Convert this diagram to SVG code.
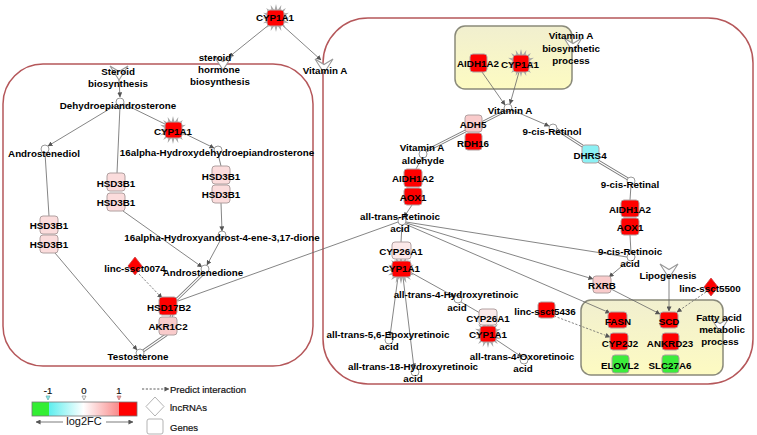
<svg xmlns="http://www.w3.org/2000/svg" xmlns:xlink="http://www.w3.org/1999/xlink" width="757" height="435" viewBox="0 0 757 435">
<defs>
<style>
.t{font-family:"Liberation Sans",Arial,sans-serif;font-weight:bold;font-size:9.8px;text-anchor:middle;dominant-baseline:central;fill:#000}
.lt{font-family:"Liberation Sans",Arial,sans-serif;font-size:9.5px;dominant-baseline:central;fill:#111;stroke:#111;stroke-width:0.2}
.box{fill:none;stroke:#b5575a;stroke-width:1.5}
.ybox{fill:url(#yg);stroke:#8a8a7a;stroke-width:1.5}
.e{stroke:#666;stroke-width:0.8;fill:none}
.d{stroke-dasharray:2.2,1.6}
.dbo{stroke:#777;stroke-width:3;fill:none}
.dbi{stroke:#fff;stroke-width:1.3;fill:none}
.g{stroke:#b0a0a0;stroke-width:1}
.red{fill:#ff0000}
.pk{fill:#f9cbcb}
.lp{fill:#fbdcdc}
.vp{fill:#fce9e9}
.cy{fill:#8cf0f4}
.gn{fill:#3cec3c}
.cir{fill:#fff;stroke:#999;stroke-width:1}
.chev{fill:#fff;stroke:#9a9a9a;stroke-width:1.1}
.star{fill:#a8a8a8}
</style>
<marker id="ar" viewBox="0 0 6 6" refX="5.5" refY="3" markerWidth="5" markerHeight="5" markerUnits="userSpaceOnUse" orient="auto">
<path d="M0,0 L6,3 L0,6 Z" fill="#555"/>
</marker>
<linearGradient id="yg" x1="0" y1="0" x2="0" y2="1">
<stop offset="0" stop-color="#f1efcf"/>
<stop offset="1" stop-color="#fdfbc2"/>
</linearGradient>
<linearGradient id="lg" x1="0" y1="0" x2="1" y2="0">
<stop offset="0" stop-color="#33ee33"/>
<stop offset="0.162" stop-color="#33ee33"/>
<stop offset="0.162" stop-color="#5eeeee"/>
<stop offset="0.49" stop-color="#ffffff"/>
<stop offset="0.83" stop-color="#f98a8a"/>
<stop offset="0.83" stop-color="#ff0000"/>
<stop offset="1" stop-color="#ff0000"/>
</linearGradient>
<polygon id="star" class="star" points="14,0 7.85,1.56 12.93,5.36 6.65,4.44 9.9,9.9 4.44,6.65 5.36,12.93 1.56,7.85 0,14 -1.56,7.85 -5.36,12.93 -4.44,6.65 -9.9,9.9 -6.65,4.44 -12.93,5.36 -7.85,1.56 -14,0 -7.85,-1.56 -12.93,-5.36 -6.65,-4.44 -9.9,-9.9 -4.44,-6.65 -5.36,-12.93 -1.56,-7.85 0,-14 1.56,-7.85 5.36,-12.93 4.44,-6.65 9.9,-9.9 6.65,-4.44 12.93,-5.36 7.85,-1.56"/>
<path id="chev" class="chev" d="M-9,-7 L0,-1.5 L9,-7 L0,7 Z"/>
<path id="db1" d="M505,111 L426,151"/>
<path id="db2" d="M204,273 L176,300 L166,335 L143,351"/>
<path id="db3" d="M556,129 L584,147 L598,161 L628,179"/>
</defs>

<rect width="757" height="435" fill="#fff"/>

<g id="containers">
<rect class="box" x="3" y="64" width="310" height="302" rx="40"/>
<rect class="box" x="323" y="18" width="430" height="366" rx="45"/>
<rect class="ybox" x="455" y="26" width="117" height="63" rx="10"/>
<rect class="ybox" x="581" y="300" width="142" height="75" rx="10"/>
</g>

<g id="connectors">
<use href="#db1" class="dbo"/><use href="#db1" class="dbi"/>
<use href="#db2" class="dbo"/><use href="#db2" class="dbi"/>
<use href="#db3" class="dbo"/><use href="#db3" class="dbi"/>
<path class="e" d="M270,24 L229,57" marker-end="url(#ar)"/>
<path class="e" d="M281,24 L321,60" marker-end="url(#ar)"/>
<path class="e" d="M119,80 L120,97" marker-end="url(#ar)"/>
<path class="e" d="M116,105 L48,146" marker-end="url(#ar)"/>
<path class="e" d="M120,106 L117,173"/>
<path class="e" d="M124,104 L214,148" marker-end="url(#ar)"/>
<path class="e" d="M45,153 L49,216"/>
<path class="e" d="M55,253 L137,350" marker-end="url(#ar)"/>
<path class="e" d="M123,211 L202,267" marker-end="url(#ar)"/>
<path class="e" d="M218,154 L221,166"/>
<path class="e" d="M221,203 L222,231" marker-end="url(#ar)"/>
<path class="e" d="M221,239 L207,265" marker-end="url(#ar)"/>
<path class="e d" d="M139,274 L162,298" marker-end="url(#ar)"/>
<path class="e" d="M178,301 L398,222"/>
<path class="e" d="M482,72 L505,105" marker-end="url(#ar)"/>
<path class="e" d="M519,72 L510,104" marker-end="url(#ar)"/>
<path class="e" d="M512,110 L549,126" marker-end="url(#ar)"/>
<path class="e" d="M422,158 L416,169"/>
<path class="e" d="M412,205 L404,217" marker-end="url(#ar)"/>
<path class="e" d="M402,225 L401,242"/>
<path class="e" d="M406,222 L627,257"/>
<path class="e" d="M406,223 L593,279" marker-end="url(#ar)"/>
<path class="e" d="M405,224 L610,313" marker-end="url(#ar)"/>
<path class="e" d="M628,261 L609,277" marker-end="url(#ar)"/>
<path class="e" d="M630,235 L631,253"/>
<path class="e" d="M631,185 L630,200"/>
<path class="e" d="M611,289 L660,314" marker-end="url(#ar)"/>
<path class="e" d="M669,277 L669,311" marker-end="url(#ar)"/>
<path class="e d" d="M706,292 L677,312" marker-end="url(#ar)"/>
<path class="e d" d="M554,316 L610,337" marker-end="url(#ar)"/>
<path class="e" d="M410,272 L455,297" marker-end="url(#ar)"/>
<path class="e" d="M398,277 L390,336" marker-end="url(#ar)"/>
<path class="e" d="M403,277 L414,368" marker-end="url(#ar)"/>
<path class="e" d="M461,302 L480,313"/>
<path class="e" d="M495,339 L522,357" marker-end="url(#ar)"/>
</g>

<g id="n-cyp1a1-top"><use href="#star" x="276" y="18"/><rect class="g red" x="267" y="10" width="17" height="16" rx="3"/><text class="t" x="275" y="17">CYP1A1</text></g>
<g id="n-steroid-hormone"><use href="#chev" x="223" y="63"/><text class="t" x="215" y="57">steroid</text><text class="t" x="219" y="69">hormone</text><text class="t" x="220" y="81">biosynthesis</text></g>
<g id="n-vitaminA-top"><use href="#chev" x="324" y="66"/><text class="t" x="325" y="70">Vitamin A</text></g>

<g id="n-steroid-bio"><use href="#chev" x="119" y="73"/><text class="t" x="118" y="71">Steroid</text><text class="t" x="118" y="83">biosynthesis</text></g>
<g id="n-dhea"><circle class="cir" cx="120" cy="102" r="4"/><text class="t" x="118" y="105">Dehydroepiandrosterone</text></g>
<g id="n-cyp1a1-l"><use href="#star" x="173" y="130"/><rect class="g red" x="165" y="122" width="17" height="16" rx="3"/><text class="t" x="173" y="131">CYP1A1</text></g>
<g id="n-androstenediol"><circle class="cir" cx="45" cy="149" r="4"/><text class="t" x="44" y="153">Androstenediol</text></g>
<g id="n-16a-dhea"><circle class="cir" cx="218" cy="150" r="4"/><text class="t" x="217" y="152">16alpha-Hydroxydehydroepiandrosterone</text></g>
<g id="n-hsd3b1-m"><rect class="g lp" x="107" y="173" width="18" height="18" rx="3"/><rect class="g lp" x="107" y="193" width="18" height="18" rx="3"/><text class="t" x="116" y="183">HSD3B1</text><text class="t" x="116" y="202">HSD3B1</text></g>
<g id="n-hsd3b1-r"><rect class="g lp" x="212" y="166" width="18" height="18" rx="3"/><rect class="g lp" x="212" y="185" width="18" height="18" rx="3"/><text class="t" x="221" y="176">HSD3B1</text><text class="t" x="221" y="194">HSD3B1</text></g>
<g id="n-hsd3b1-l"><rect class="g lp" x="40" y="216" width="18" height="18" rx="3"/><rect class="g lp" x="40" y="235" width="18" height="18" rx="3"/><text class="t" x="49" y="225">HSD3B1</text><text class="t" x="49" y="244">HSD3B1</text></g>
<g id="n-16a-dione"><circle class="cir" cx="222" cy="235" r="4"/><text class="t" x="222" y="237">16alpha-Hydroxyandrost-4-ene-3,17-dione</text></g>
<g id="n-androstenedione"><circle class="cir" cx="205" cy="269" r="4"/><text class="t" x="203" y="272">Androstenedione</text></g>
<g id="n-linc0074"><path d="M135,257 L142,266 L135,275 L128,266 Z" fill="#ff0000" stroke="#c44" stroke-width="0.8"/><text class="t" x="135" y="268">linc-ssct0074</text></g>
<g id="n-hsd17b2"><rect class="g red" x="159" y="297" width="18" height="18" rx="3"/><text class="t" x="169" y="307">HSD17B2</text></g>
<g id="n-akr1c2"><rect class="g pk" x="159" y="317" width="18" height="18" rx="3"/><text class="t" x="168" y="326">AKR1C2</text></g>
<g id="n-testosterone"><circle class="cir" cx="140" cy="353" r="4"/><text class="t" x="138" y="356">Testosterone</text></g>

<g id="n-aidh1a2-up"><rect class="g red" x="470" y="54" width="17" height="18" rx="3"/><text class="t" x="478" y="63">AIDH1A2</text></g>
<g id="n-cyp1a1-up"><use href="#star" x="521" y="63"/><rect class="g red" x="513" y="55" width="16" height="17" rx="3"/><text class="t" x="520" y="64">CYP1A1</text></g>
<g id="n-vitA-bio"><use href="#chev" x="573" y="45"/><text class="t" x="571" y="35">Vitamin A</text><text class="t" x="571" y="48">biosynthetic</text><text class="t" x="571" y="60">process</text></g>
<g id="n-vitaminA"><circle class="cir" cx="508" cy="108" r="4"/><text class="t" x="510" y="110">Vitamin A</text></g>
<g id="n-adh5"><rect class="g pk" x="465" y="115" width="17" height="17" rx="3"/><text class="t" x="473" y="124">ADH5</text></g>
<g id="n-rdh16"><rect class="g red" x="465" y="133" width="17" height="17" rx="3"/><text class="t" x="473" y="143">RDH16</text></g>
<g id="n-9cis-retinol"><circle class="cir" cx="553" cy="128" r="4"/><text class="t" x="552" y="131">9-cis-Retinol</text></g>
<g id="n-vitA-ald"><circle class="cir" cx="423" cy="154" r="4"/><text class="t" x="422" y="147">Vitamin A</text><text class="t" x="423" y="160">aldehyde</text></g>
<g id="n-dhrs4"><rect class="g cy" x="582" y="145" width="17" height="18" rx="3"/><text class="t" x="590" y="155">DHRS4</text></g>
<g id="n-9cis-retinal"><circle class="cir" cx="631" cy="181" r="4"/><text class="t" x="630" y="184">9-cis-Retinal</text></g>
<g id="n-aidh1a2-m"><rect class="g red" x="404" y="169" width="18" height="18" rx="3"/><text class="t" x="413" y="178">AIDH1A2</text></g>
<g id="n-aox1-m"><rect class="g red" x="404" y="188" width="18" height="17" rx="3"/><text class="t" x="413" y="197">AOX1</text></g>
<g id="n-aidh1a2-r"><rect class="g red" x="621" y="200" width="18" height="17" rx="3"/><text class="t" x="630" y="209">AIDH1A2</text></g>
<g id="n-aox1-r"><rect class="g red" x="621" y="218" width="18" height="17" rx="3"/><text class="t" x="630" y="227">AOX1</text></g>
<g id="n-atra"><circle class="cir" cx="402" cy="221" r="4"/><text class="t" x="400" y="216">all-trans-Retinoic</text><text class="t" x="400" y="228">acid</text></g>
<g id="n-9cis-ra"><circle class="cir" cx="631" cy="257" r="4"/><text class="t" x="630" y="251">9-cis-Retinoic</text><text class="t" x="630" y="263">acid</text></g>
<g id="n-cyp-m"><use href="#star" x="401" y="270"/><rect class="g vp" x="392" y="242" width="19" height="17" rx="3"/><rect class="g red" x="392" y="261" width="19" height="16" rx="3"/><text class="t" x="401" y="251">CYP26A1</text><text class="t" x="401" y="268">CYP1A1</text></g>
<g id="n-lipogenesis"><use href="#chev" x="669" y="271"/><text class="t" x="668" y="275">Lipogenesis</text></g>
<g id="n-linc5500"><path d="M711,278 L718,287 L711,296 L704,287 Z" fill="#ff0000" stroke="#c44" stroke-width="0.8"/><text class="t" x="710" y="288">linc-ssct5500</text></g>
<g id="n-rxrb"><rect class="g pk" x="593" y="276" width="18" height="17" rx="3"/><text class="t" x="602" y="285">RXRB</text></g>
<g id="n-4oh"><circle class="cir" cx="458" cy="299" r="4"/><text class="t" x="456" y="294">all-trans-4-Hydroxyretinoic</text><text class="t" x="457" y="307">acid</text></g>
<g id="n-linc5436"><rect class="g red" x="538" y="302" width="17" height="16" rx="3"/><text class="t" x="545" y="311">linc-ssct5436</text></g>
<g id="n-cyp-low"><use href="#star" x="488" y="334"/><rect class="g vp" x="479" y="309" width="18" height="16" rx="3"/><rect class="g red" x="480" y="326" width="16" height="16" rx="3"/><text class="t" x="488" y="318">CYP26A1</text><text class="t" x="488" y="334">CYP1A1</text></g>
<g id="n-epoxy"><circle class="cir" cx="389" cy="340" r="4"/><text class="t" x="388" y="334">all-trans-5,6-Epoxyretinoic</text><text class="t" x="389" y="346">acid</text></g>
<g id="n-oxo"><circle class="cir" cx="524" cy="360" r="4"/><text class="t" x="522" y="356">all-trans-4-Oxoretinoic</text><text class="t" x="523" y="368">acid</text></g>
<g id="n-18oh"><circle class="cir" cx="415" cy="372" r="4"/><text class="t" x="413" y="366">all-trans-18-Hydroxyretinoic</text><text class="t" x="413" y="378">acid</text></g>
<g id="n-fasn"><rect class="g red" x="608" y="312" width="19" height="16" rx="3"/><text class="t" x="618" y="321">FASN</text></g>
<g id="n-scd"><rect class="g red" x="660" y="312" width="18" height="16" rx="3"/><text class="t" x="669" y="321">SCD</text></g>
<g id="n-cyp2j2"><rect class="g red" x="610" y="333" width="18" height="17" rx="3"/><text class="t" x="620" y="343">CYP2J2</text></g>
<g id="n-ankrd23"><rect class="g red" x="662" y="333" width="17" height="17" rx="3"/><text class="t" x="670" y="343">ANKRD23</text></g>
<g id="n-elovl2"><rect class="g gn" x="612" y="355" width="17" height="18" rx="3"/><text class="t" x="620" y="365">ELOVL2</text></g>
<g id="n-slc27a6"><rect class="g gn" x="662" y="355" width="17" height="18" rx="3"/><text class="t" x="670" y="365">SLC27A6</text></g>
<g id="n-fatty"><use href="#chev" x="720" y="325"/><text class="t" x="719" y="317">Fatty acid</text><text class="t" x="722" y="329">metabolic</text><text class="t" x="720" y="341">process</text></g>

<g id="legend">
<rect x="32" y="402" width="105" height="14" fill="url(#lg)" stroke="#777" stroke-width="0.8"/>
<text class="lt" x="48" y="390" text-anchor="middle">-1</text>
<text class="lt" x="84" y="390" text-anchor="middle">0</text>
<text class="lt" x="119" y="390" text-anchor="middle">1</text>
<path d="M46,396 L50,396 L48,400 Z" fill="#8ee" stroke="#6aa" stroke-width="0.7"/>
<path d="M82,396 L86,396 L84,400 Z" fill="#fff" stroke="#888" stroke-width="0.7"/>
<path d="M117,396 L121,396 L119,400 Z" fill="#f99" stroke="#a77" stroke-width="0.7"/>
<path class="e" d="M63,422 L36,422" marker-end="url(#ar)" style="stroke:#444;stroke-width:0.7"/>
<path class="e" d="M106,422 L133,422" marker-end="url(#ar)" style="stroke:#444;stroke-width:0.7"/>
<text class="lt" x="84" y="421" text-anchor="middle" style="font-size:11px;stroke-width:0">log2FC</text>
<path class="e d" d="M142,389 L169,389" marker-end="url(#ar)" style="stroke:#333"/>
<text class="lt" x="170" y="389">Predict interaction</text>
<path d="M155,397 L164,406.5 L155,416 L146,406.5 Z" fill="#fff" stroke="#aaa" stroke-width="0.9"/>
<text class="lt" x="170" y="407">lncRNAs</text>
<rect x="147" y="419" width="16" height="15" rx="2" fill="#fff" stroke="#aaa" stroke-width="0.9"/>
<text class="lt" x="170" y="427">Genes</text>
</g>
</svg>
